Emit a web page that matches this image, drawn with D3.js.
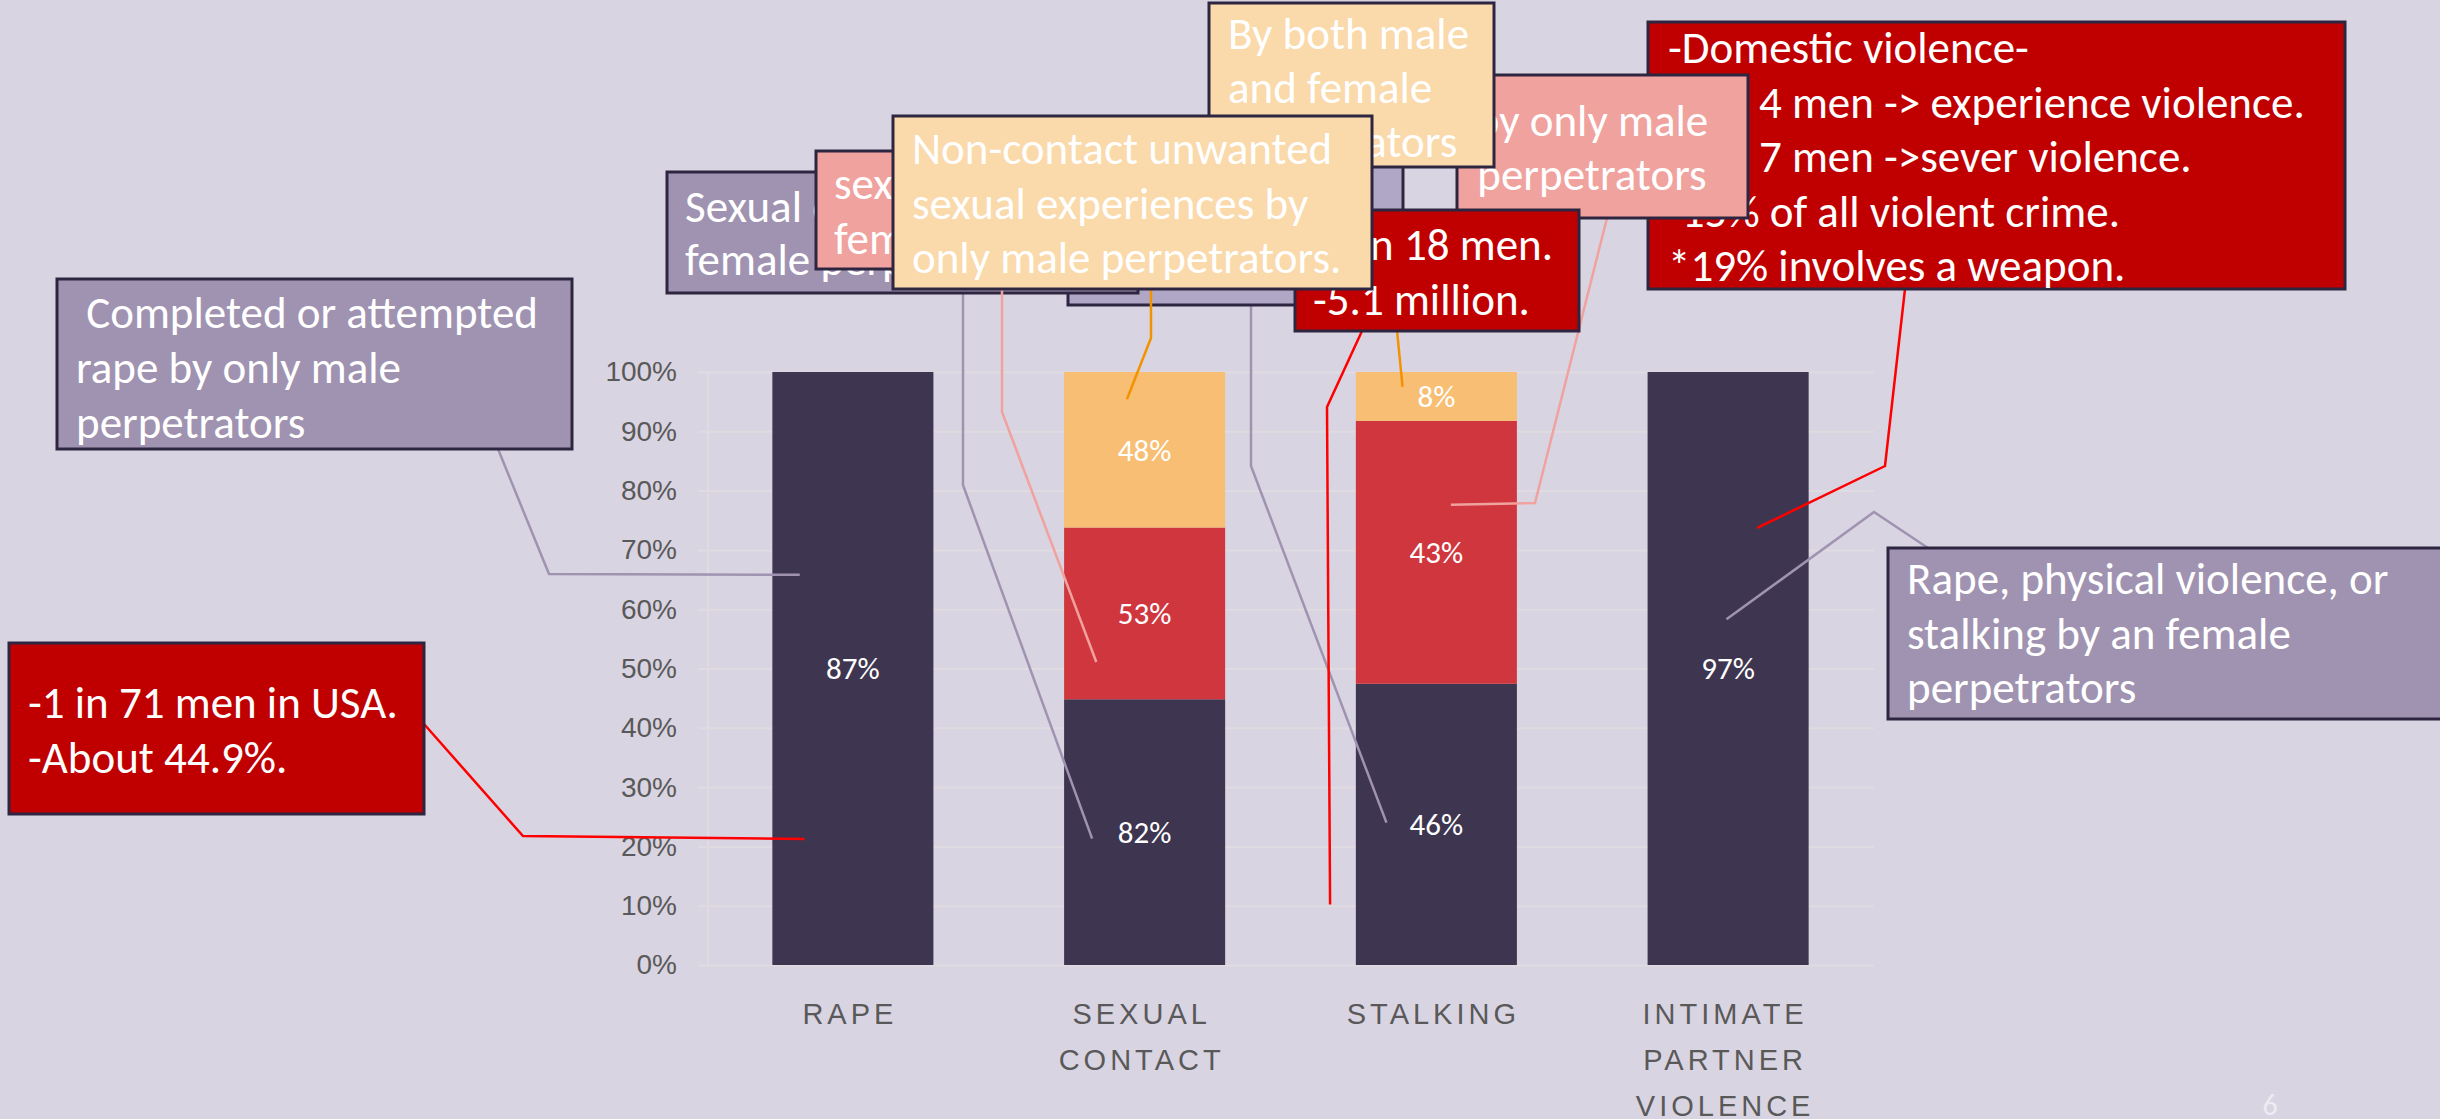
<!DOCTYPE html>
<html>
<head>
<meta charset="utf-8">
<script src="https://cdn.jsdelivr.net/npm/d3@7/dist/d3.min.js"></script>
<style>
  body { margin: 0; background: #d9d4e2; }
  svg { display: block; font-family: Carlito, Lato, sans-serif; }
</style>
</head>
<body>
<svg id="chart"></svg>
<script>
// --- data ---
const categories = ['RAPE', 'SEXUAL CONTACT', 'STALKING', 'INTIMATE PARTNER VIOLENCE'];
const categoryLines = [['RAPE'], ['SEXUAL', 'CONTACT'], ['STALKING'], ['INTIMATE', 'PARTNER', 'VIOLENCE']];
const darkValues = [87, 82, 46, 97];
const redValues = [0, 53, 43, 0];
const orangeValues = [0, 48, 8, 0];
const yTicks = [0, 0.1, 0.2, 0.3, 0.4, 0.5, 0.6, 0.7, 0.8, 0.9, 1.0];

const calloutTexts = {
    completed: [' Completed or attempted', 'rape by only male', 'perpetrators'],
    usa: ['-1 in 71 men in USA.', '-About 44.9%.'],
    ipvFemale: ['Rape, physical violence, or', 'stalking by an female', 'perpetrators'],
    domestic: ['-Domestic violence-', '-1 in 4 men -> experience violence.', '-1 in 7 men ->sever violence.', '-15% of all violent crime.', '*19% involves a weapon.'],
    stalkMale: ['by only male', 'perpetrators'],
    stalkFemale: [],
    scFemale: ['Sexual contact by only', 'female perpetrators'],
    scFemale2: ['sexual contact by only', 'female perpetrators'],
    stalkBoth: ['By both male', 'and female', 'perpetrators'],
    stalkCount: ['-1 in 18 men.', '-5.1 million.'],
    nonContact: ['Non-contact unwanted', 'sexual experiences by', 'only male perpetrators.']
};

// --- layout of the callout boxes (slide pixels), drawn bottom to top ---
const PURPLE = '#a093b1', LILAC = '#b0a7c6', RED = '#c00000', PINK = '#f0a29e', PEACH = '#fad9ab';
const calloutLayout = [
    { id: 'completed', x: 57, y: 279, w: 515, h: 170, tx: 76, ty: 328, lh: 55, fill: PURPLE, stroke: PURPLE,
      path: [[498, 449], [549, 574]], tip: { cat: 0, fx: 0.17, v: 0.658 } },
    { id: 'usa', x: 9, y: 643, w: 415, h: 171, tx: 28, ty: 718, lh: 55, fill: RED, stroke: '#ff0000',
      path: [[424, 724], [523, 836]], tip: { cat: 0, fx: 0.2, v: 0.2125 } },
    { id: 'ipvFemale', x: 1888, y: 548, w: 620, h: 171, tx: 1907, ty: 594, lh: 54.5, fill: PURPLE, stroke: PURPLE,
      path: [[1928, 548], [1874, 512]], tip: { cat: 3, fx: 0.49, v: 0.583 } },
    { id: 'domestic', x: 1648, y: 22, w: 697, h: 267, tx: 1668, ty: 63, lh: 54.5, fill: RED, stroke: '#ff0000',
      path: [[1905, 289], [1885, 466]], tip: { cat: 3, fx: 0.68, v: 0.737 } },
    { id: 'stalkMale', x: 1457, y: 75, w: 291, h: 143, tx: 1592, ty: 136, lh: 53.5, anchor: 'middle', fill: PINK, stroke: PINK,
      path: [[1607, 218], [1535, 503]], tip: { cat: 2, fx: 0.59, v: 0.776 } },
    { id: 'stalkFemale', x: 1068, y: 120, w: 335, h: 185, tx: 1088, ty: 170, lh: 55, fill: LILAC, stroke: PURPLE,
      path: [[1251, 305], [1251, 466]], tip: { cat: 2, fx: 0.19, v: 0.24 } },
    { id: 'scFemale', x: 667, y: 172, w: 471, h: 121, tx: 685, ty: 222, lh: 53, fill: PURPLE, stroke: PURPLE,
      path: [[963, 293], [963, 485]], tip: { cat: 1, fx: 0.174, v: 0.213 } },
    { id: 'scFemale2', x: 816, y: 151, w: 384, h: 118, tx: 834, ty: 199, lh: 55, fill: PINK, stroke: PINK,
      path: [[1002, 269], [1002, 412]], tip: { cat: 1, fx: 0.2, v: 0.511 } },
    { id: 'stalkBoth', x: 1209, y: 3, w: 285, h: 164, tx: 1228, ty: 49, lh: 54, fill: PEACH, stroke: '#f39200',
      path: [[1394, 300]], tip: { cat: 2, fx: 0.29, v: 0.975 } },
    { id: 'stalkCount', x: 1295, y: 210, w: 284, h: 121, tx: 1313, ty: 260, lh: 55, fill: RED, stroke: '#ff0000',
      path: [[1362, 331], [1327, 407]], tip: { cat: 2, fx: -0.16, v: 0.102 } },
    { id: 'nonContact', x: 893, y: 116, w: 479, h: 173, tx: 912, ty: 164, lh: 54.5, fill: PEACH, stroke: '#f39200',
      path: [[1151, 289], [1151, 338]], tip: { cat: 1, fx: 0.39, v: 0.954 } }
];

class StackedPercentChart {
    constructor(config, data) {
        this.config = {
            parent: config.parent,
            width: config.width || 2440,
            height: config.height || 1119,
            margin: config.margin || { top: 372, right: 566, bottom: 154, left: 707 },
            colors: config.colors
        };
        this.data = data;
        this.init();
    }

    init() {
        let self = this;

        self.svg = d3.select(self.config.parent)
            .attr('width', self.config.width)
            .attr('height', self.config.height);

        self.svg.append('rect')
            .attr('width', self.config.width)
            .attr('height', self.config.height)
            .attr('fill', '#d9d4e2');

        self.chart = self.svg.append('g')
            .attr('transform', `translate(${self.config.margin.left}, ${self.config.margin.top})`);

        self.inner_width = self.config.width - self.config.margin.left - self.config.margin.right;
        self.inner_height = self.config.height - self.config.margin.top - self.config.margin.bottom;

        self.xscale = d3.scaleBand()
            .domain(categories)
            .range([0, self.inner_width])
            .paddingInner(0.448)
            .paddingOuter(0.224);

        self.yscale = d3.scaleLinear()
            .domain([0, 1])
            .range([self.inner_height, 0]);

        self.yaxis = d3.axisLeft(self.yscale)
            .tickValues(yTicks)
            .tickFormat(d3.format('.0%'))
            .tickSizeInner(-(self.inner_width + 9))
            .tickSizeOuter(0)
            .tickPadding(21);

        self.xaxis = d3.axisBottom(self.xscale)
            .tickSize(0);

        self.yaxis_group = self.chart.append('g')
            .attr('transform', 'translate(-9, 0)');

        self.xaxis_group = self.chart.append('g')
            .attr('transform', `translate(0, ${self.inner_height})`);

        self.stack = d3.stack()
            .keys(['dark', 'red', 'orange'])
            .offset(d3.stackOffsetExpand);

        self.render();
    }

    render() {
        let self = this;

        self.yaxis_group.call(self.yaxis);
        self.yaxis_group.select('.domain').remove();
        self.yaxis_group.selectAll('.tick line')
            .attr('stroke', '#dfdbe0')
            .attr('stroke-width', 2);
        self.yaxis_group.selectAll('.tick text')
            .attr('fill', '#595959')
            .style('font-size', '28px');

        // faint left edge of the plot area
        self.chart.append('line')
            .attr('x1', 1).attr('x2', 1)
            .attr('y1', 0).attr('y2', self.inner_height)
            .attr('stroke', '#dfdbe0')
            .attr('stroke-width', 2);

        self.xaxis_group.call(self.xaxis);
        self.xaxis_group.select('.domain').remove();
        self.xaxis_group.selectAll('.tick text')
            .attr('dy', null)
            .attr('fill', '#595959')
            .style('font-size', '29px')
            .style('letter-spacing', '4px')
            .each(function(d) {
                const t = d3.select(this).text(null);
                categoryLines[categories.indexOf(d)].forEach((line, i) => {
                    t.append('tspan')
                        .attr('x', -3)
                        .attr('y', 59 + i * 46)
                        .text(line);
                });
            });

        const layers = self.stack(self.data);

        const layer_groups = self.chart.selectAll('.layer')
            .data(layers)
            .enter()
            .append('g')
            .attr('fill', d => self.config.colors[d.key]);

        layer_groups.selectAll('rect')
            .data(d => d.filter(s => s.data[d.key] > 0))
            .enter()
            .append('rect')
            .attr('x', d => self.xscale(d.data.category))
            .attr('y', d => self.yscale(d[1]))
            .attr('width', self.xscale.bandwidth())
            .attr('height', d => self.yscale(d[0]) - self.yscale(d[1]));

        layers.forEach(layer => {
            self.chart.selectAll(null)
                .data(layer.filter(s => s.data[layer.key] > 0))
                .enter()
                .append('text')
                .attr('x', d => self.xscale(d.data.category) + self.xscale.bandwidth() / 2)
                .attr('y', d => self.yscale((d[0] + d[1]) / 2))
                .attr('dy', '0.35em')
                .attr('text-anchor', 'middle')
                .attr('fill', '#ffffff')
                .style('font-size', '31px')
                .text(d => d.data[layer.key] + '%');
        });
    }

    // point inside a bar, in page coordinates
    tipPoint(tip) {
        const x = this.config.margin.left + this.xscale(categories[tip.cat]) + tip.fx * this.xscale.bandwidth();
        const y = this.config.margin.top + this.yscale(tip.v);
        return [x, y];
    }
}

const tableData = categories.map((c, i) => ({
    category: c,
    dark: darkValues[i],
    red: redValues[i],
    orange: orangeValues[i]
}));

const chart = new StackedPercentChart({
    parent: '#chart',
    colors: { dark: '#3e3550', red: '#d0363e', orange: '#f7be74' }
}, tableData);

// callouts with leader lines
const notes = chart.svg.append('g');
calloutLayout.forEach(c => {
    const g = notes.append('g');
    const pts = c.path.concat([chart.tipPoint(c.tip)]);
    g.append('path')
        .attr('d', d3.line()(pts))
        .attr('fill', 'none')
        .attr('stroke', c.stroke)
        .attr('stroke-width', 2.5);
    g.append('rect')
        .attr('x', c.x).attr('y', c.y)
        .attr('width', c.w).attr('height', c.h)
        .attr('fill', c.fill)
        .attr('stroke', '#2e2640')
        .attr('stroke-width', 3);
    g.selectAll('text')
        .data(calloutTexts[c.id])
        .enter()
        .append('text')
        .attr('x', c.tx)
        .attr('y', (d, i) => c.ty + i * c.lh)
        .attr('text-anchor', c.anchor || 'start')
        .attr('fill', '#ffffff')
        .style('font-size', '45px')
        .style('white-space', 'pre')
        .text(d => d);
});

// slide number
chart.svg.append('text')
    .attr('x', 2270)
    .attr('y', 1115)
    .attr('text-anchor', 'middle')
    .attr('fill', '#ececf1')
    .style('font-size', '30px')
    .text('6');
</script>
</body>
</html>
